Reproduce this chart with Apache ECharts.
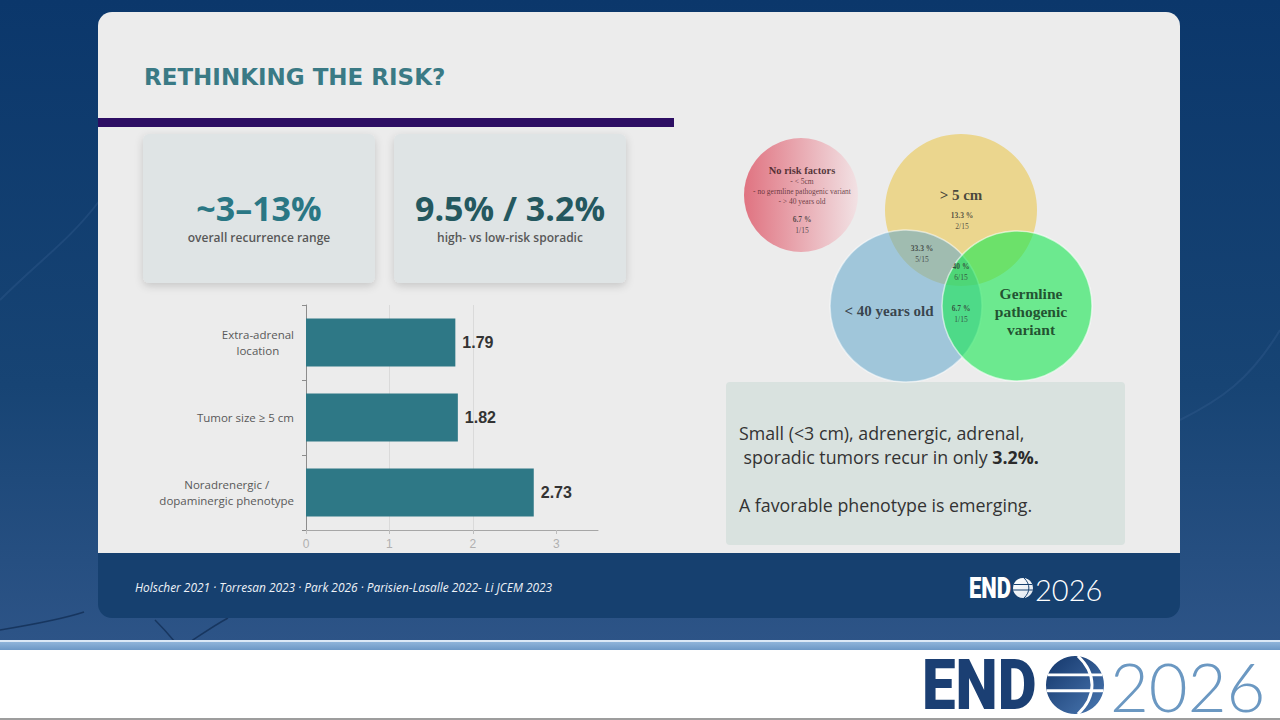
<!DOCTYPE html>
<html>
<head>
<meta charset="utf-8">
<title>Rethinking the risk?</title>
<script src="https://cdn.jsdelivr.net/npm/echarts@6/dist/echarts.min.js"></script>
<style>
html, body { margin: 0; padding: 0; background: #ffffff; }
#main { width: 1280px; height: 720px; }
</style>
</head>
<body>
<div id="main"></div>
<script>
// bar chart (hazard ratio of recurrence)
const riskFactors = ['Extra-adrenal\nlocation', 'Tumor size ≥ 5 cm', 'Noradrenergic /\ndopaminergic phenotype'];
const hazardRatios = [1.79, 1.82, 2.73];
const hrTicks = [0, 1, 2, 3];

// stat cards
const statValues = ['~3–13%', '9.5% / 3.2%'];
const statCaptions = ['overall recurrence range', 'high- vs low-risk sporadic'];

// venn diagram, in the venn panel's own units
const vennSets = ['> 5 cm', '< 40 years old', 'Germline\npathogenic\nvariant'];
const vennX = [231, 176, 287];
const vennY = [80, 176, 176];
const vennR = [76, 76, 75];
const noRiskTitle = 'No risk factors';
const noRiskNotes = ['- < 5cm', '- no germline pathogenic variant', '- > 40 years old'];
const noRiskCircle = [71, 65, 57];

// recurrence per venn region
const regionPct = ['6.7 %', '13.3 %', '33.3 %', '40 %', '6.7 %'];
const regionFrac = ['1/15', '2/15', '5/15', '6/15', '1/15'];
const regionX = [72, 232, 192, 231, 231];
const regionY = [89, 85, 118, 136, 178];

const takeaway = 'Small (<3 cm), adrenergic, adrenal,\n sporadic tumors recur in only {b|3.2%.}\n\nA favorable phenotype is emerging.';
const references = 'Holscher 2021 · Torresan 2023 · Park 2026 · Parisien-Lasalle 2022- Li JCEM 2023';

const chart = echarts.init(document.getElementById('main'), null, { renderer: 'svg' });

function txt(x, y, text, style, extra) {
  return Object.assign({
    type: 'text', x: x, y: y, silent: true,
    style: Object.assign({ text: text, align: 'left', verticalAlign: 'middle' }, style)
  }, extra || {});
}

function vennLabel(x, y, text, kind) {
  const body = text.split('\n').map(t => '{' + kind + '|' + t + '}').join('\n');
  return { value: [x, y], label: { formatter: body } };
}

// background, panel, cards, logos
const decor = [
  { type: 'rect', shape: { x: 0, y: 0, width: 1280, height: 642 },
    style: { fill: new echarts.graphic.LinearGradient(0, 0, 0, 1, [
      { offset: 0, color: '#0b376b' }, { offset: 0.6, color: '#174474' }, { offset: 1, color: '#2d5487' }]) } },
  { type: 'bezierCurve', shape: { x1: 0, y1: 300, cpx1: 40, cpy1: 260, cpx2: 70, cpy2: 240, x2: 100, y2: 200 },
    style: { stroke: 'rgba(60,100,150,0.3)', lineWidth: 2, fill: null } },
  { type: 'bezierCurve', shape: { x1: 0, y1: 630, cpx1: 30, cpy1: 625, cpx2: 60, cpy2: 620, x2: 84, y2: 612 },
    style: { stroke: 'rgba(10,35,70,0.6)', lineWidth: 1.5, fill: null } },
  { type: 'bezierCurve', shape: { x1: 155, y1: 620, cpx1: 165, cpy1: 630, cpx2: 170, cpy2: 636, x2: 175, y2: 642 },
    style: { stroke: 'rgba(10,35,70,0.6)', lineWidth: 1.5, fill: null } },
  { type: 'bezierCurve', shape: { x1: 190, y1: 642, cpx1: 205, cpy1: 632, cpx2: 215, cpy2: 625, x2: 228, y2: 618 },
    style: { stroke: 'rgba(10,35,70,0.6)', lineWidth: 1.5, fill: null } },
  { type: 'bezierCurve', shape: { x1: 1180, y1: 420, cpx1: 1220, cpy1: 400, cpx2: 1250, cpy2: 380, x2: 1280, y2: 330 },
    style: { stroke: 'rgba(60,100,150,0.3)', lineWidth: 2, fill: null } },
  { type: 'rect', shape: { x: 0, y: 640, width: 1280, height: 2 }, style: { fill: '#dce9f6' } },
  { type: 'rect', shape: { x: 0, y: 642, width: 1280, height: 8 },
    style: { fill: new echarts.graphic.LinearGradient(0, 0, 0, 1, [
      { offset: 0, color: '#8fb4da' }, { offset: 1, color: '#6d98c6' }]) } },
  { type: 'rect', shape: { x: 0, y: 650, width: 1280, height: 68 }, style: { fill: '#ffffff' } },
  { type: 'rect', shape: { x: 0, y: 718, width: 1280, height: 2 }, style: { fill: '#9d9d9d' } },
  { type: 'rect', shape: { x: 98, y: 540, width: 1082, height: 78, r: [0, 0, 14, 14] }, style: { fill: '#16406f' } },
  { type: 'rect', shape: { x: 98, y: 12, width: 1082, height: 541, r: [14, 14, 0, 0] }, style: { fill: '#ececec' } },
  { type: 'rect', shape: { x: 98, y: 118, width: 576, height: 9 }, style: { fill: '#2d0e63' } },
  txt(144, 77, 'RETHINKING THE RISK?', { fontFamily: 'DejaVu Sans', fontWeight: 'bold', fontSize: 23, fill: '#3a7a85' })
];

const cardX = [143, 394];
const cardInk = ['#2a7784', '#24585f'];
statValues.forEach((v, i) => {
  decor.push({ type: 'rect', shape: { x: cardX[i], y: 134, width: 232, height: 149, r: 6 },
    style: { fill: '#dfe4e5', shadowBlur: 8, shadowOffsetY: 3, shadowColor: 'rgba(0,0,0,0.16)' } });
  decor.push(txt(cardX[i] + 116, 208, v, { align: 'center', fontFamily: 'Open Sans', fontWeight: 'bold', fontSize: 34, lineHeight: 30, fill: cardInk[i] }));
  decor.push(txt(cardX[i] + 116, 237, statCaptions[i], { align: 'center', fontFamily: 'Open Sans', fontWeight: 600, fontSize: 12, lineHeight: 14, fill: '#585858' }));
});

decor.push({ type: 'rect', shape: { x: 726, y: 382, width: 399, height: 163, r: 4 }, style: { fill: '#d9e2df' } });
decor.push({
  type: 'text', x: 739, y: 421, silent: true,
  style: {
    text: takeaway, align: 'left', verticalAlign: 'top',
    fontFamily: 'Open Sans', fontSize: 17.8, lineHeight: 24, fill: '#333333',
    rich: { b: { fontFamily: 'Open Sans', fontWeight: 'bold', fontSize: 17.8, lineHeight: 24, fill: '#2b2b2b' } }
  }
});

decor.push(txt(135, 587, references, { fontFamily: 'Open Sans', fontStyle: 'italic', fontSize: 11.9, fill: '#eef2f7' }));

// ENDO2026 logos
function logo(o) {
  const lw = Math.max(1, o.r / 10);
  const items = [
    txt(o.x, o.cy, 'END', { fontFamily: 'Roboto', fontWeight: 900, fontSize: o.size, lineHeight: o.size * 0.8, fill: o.ink }, { scaleY: o.stretch }),
    { type: 'circle', shape: { cx: o.gx, cy: o.cy, r: o.r }, silent: true,
      style: { fill: new echarts.graphic.LinearGradient(0, 0, 1, 1, [
        { offset: 0, color: o.globe[0] }, { offset: 1, color: o.globe[1] }]) } }
  ];
  [-0.35, 0.2].forEach(k => {
    const dy = k * o.r;
    const hw = Math.sqrt(o.r * o.r - dy * dy);
    items.push({ type: 'line', silent: true, shape: { x1: o.gx - hw, y1: o.cy + dy, x2: o.gx + hw, y2: o.cy + dy },
      style: { stroke: o.globe[2], lineWidth: lw } });
  });
  items.push({ type: 'bezierCurve', silent: true,
    shape: { x1: o.gx + o.r * 0.1, y1: o.cy - o.r, cpx1: o.gx + o.r * 0.75, cpy1: o.cy - o.r * 0.4,
      cpx2: o.gx + o.r * 0.75, cpy2: o.cy + o.r * 0.4, x2: o.gx + o.r * 0.1, y2: o.cy + o.r },
    style: { stroke: o.globe[2], lineWidth: lw, fill: null } });
  items.push(txt(o.yx, o.cy + 1, '2026', { fontFamily: 'Lato', fontWeight: 300, fontSize: o.ysize, lineHeight: o.ysize * 0.8, fill: o.light }));
  return items;
}
decor.push.apply(decor, logo({ x: 969, cy: 588, size: 22, stretch: 1.3, gx: 1023, r: 10, yx: 1035, ysize: 29,
  ink: '#ffffff', light: '#ffffff', globe: ['#ffffff', '#dfe6ee', '#16406f'] }));
decor.push.apply(decor, logo({ x: 922, cy: 685, size: 60, stretch: 1.16, gx: 1075, r: 29, yx: 1110, ysize: 67,
  ink: '#1b3f73', light: '#6b98c2', globe: ['#14366a', '#4a78b2', '#ffffff'] }));

// venn circles
const vennColors = ['#ebd68e', 'rgb(99,168,204)', 'rgb(23,232,82)'];
const vennAlpha = [1, 0.55, 0.6];
const circleData = [{
  name: noRiskTitle, value: noRiskCircle,
  itemStyle: { color: new echarts.graphic.LinearGradient(0, 0, 1, 0, [
    { offset: 0, color: '#dd5566' }, { offset: 1, color: '#f3dfe2' }]) }
}].concat(vennSets.map((s, i) => ({
  name: s.replace(/\n/g, ' '), value: [vennX[i], vennY[i], vennR[i]],
  itemStyle: { color: vennColors[i], opacity: vennAlpha[i], borderColor: i ? '#ffffff' : 'transparent', borderWidth: i ? 1.5 : 0 }
})));

// venn texts
const vennText = [
  vennLabel(72, 40, noRiskTitle, 'h'),
  vennLabel(72, 51, noRiskNotes[0], 'n'),
  vennLabel(72, 61, noRiskNotes[1], 'n'),
  vennLabel(72, 71, noRiskNotes[2], 'n'),
  vennLabel(231, 65, vennSets[0], 't'),
  vennLabel(159, 181, vennSets[1], 't'),
  vennLabel(301, 181, vennSets[2], 'g')
];
regionPct.forEach((p, i) => {
  vennText.push(vennLabel(regionX[i], regionY[i], p, 'p'));
  vennText.push(vennLabel(regionX[i], regionY[i] + 11, regionFrac[i], 'f'));
});

const serif = 'Liberation Serif';
const option = {
  animation: false,
  backgroundColor: '#ffffff',
  graphic: { elements: decor },
  grid: [
    { left: 306, right: 682, top: 305, bottom: 190 },
    { left: 730, top: 130, width: 380, height: 260 }
  ],
  xAxis: [
    {
      type: 'value', gridIndex: 0, min: 0, max: 3.5, interval: 1,
      axisLine: { show: true, lineStyle: { color: '#a6a6a6' } },
      axisTick: { show: true, length: 4, customValues: hrTicks, lineStyle: { color: '#bdbdbd' } },
      axisLabel: { customValues: hrTicks, color: '#b0b0b0', fontSize: 12, fontFamily: 'Liberation Sans', margin: 8 },
      splitLine: { show: true, showMinLine: false, showMaxLine: false, lineStyle: { color: '#dadada' } }
    },
    { type: 'value', gridIndex: 1, min: 0, max: 380, show: false }
  ],
  yAxis: [
    {
      type: 'category', gridIndex: 0, data: riskFactors, inverse: true,
      axisLine: { show: true, lineStyle: { color: '#8c8c8c' } },
      axisTick: { show: true, length: 4, lineStyle: { color: '#8c8c8c' } },
      axisLabel: {
        margin: 12,
        formatter: v => v.split('\n').map(l => '{c|' + l + '}').join('\n'),
        rich: { c: { align: 'center', color: '#595959', fontSize: 11.5, fontFamily: 'Open Sans', lineHeight: 16 } }
      }
    },
    { type: 'value', gridIndex: 1, min: 0, max: 260, inverse: true, show: false }
  ],
  series: [
    {
      type: 'bar', xAxisIndex: 0, yAxisIndex: 0, data: hazardRatios, barWidth: 48,
      itemStyle: { color: '#2e7886' },
      label: {
        show: true, position: 'right', distance: 7,
        fontFamily: 'Liberation Sans', fontWeight: 'bold', fontSize: 16, color: '#333333',
        formatter: p => p.value.toFixed(2)
      }
    },
    {
      type: 'scatter', xAxisIndex: 1, yAxisIndex: 1, silent: true,
      symbol: 'circle', symbolSize: v => v[2] * 2,
      data: circleData
    },
    {
      type: 'scatter', xAxisIndex: 1, yAxisIndex: 1, silent: true, z: 5,
      symbolSize: 0, data: vennText,
      label: {
        show: true, position: 'inside',
        rich: {
          t: { fontFamily: serif, fontWeight: 'bold', fontSize: 15, color: '#1d2228', lineHeight: 18 },
          g: { fontFamily: serif, fontWeight: 'bold', fontSize: 15.5, color: '#0f2a17', lineHeight: 18 },
          h: { fontFamily: serif, fontWeight: 'bold', fontSize: 10.5, color: '#2e1216' },
          n: { fontFamily: serif, fontSize: 7.5, color: '#4a2026' },
          p: { fontFamily: serif, fontWeight: 'bold', fontSize: 7.5, color: '#2f2f2f' },
          f: { fontFamily: serif, fontSize: 7.5, color: '#2f2f2f' }
        }
      }
    }
  ]
};

chart.setOption(option);
</script>
</body>
</html>
